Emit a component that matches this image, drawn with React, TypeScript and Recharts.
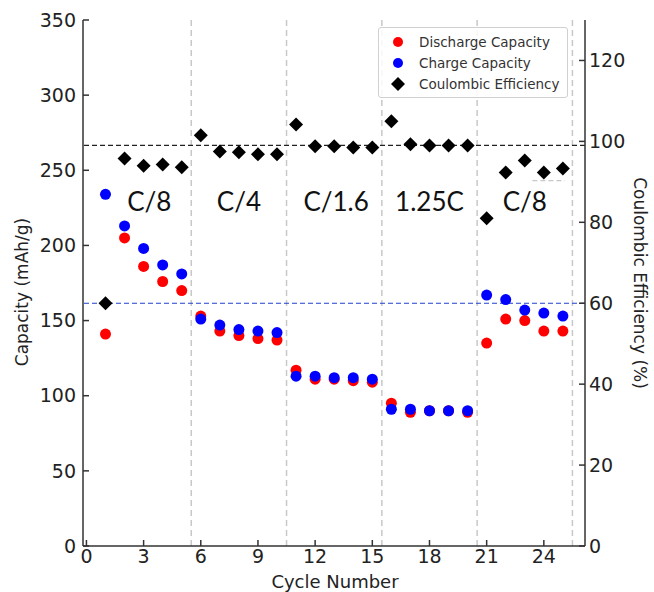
import {
  ComposedChart, Scatter, XAxis, YAxis, ReferenceLine, ReferenceDot,
} from 'recharts';

const cycles = [1, 2, 3, 4, 5, 6, 7, 8, 9, 10, 11, 12, 13, 14, 15, 16, 17, 18, 19, 20, 21, 22, 23, 24, 25];
const discharge = [141, 205, 186, 176, 170, 153, 143, 140, 138, 137, 117, 111, 111, 110, 109, 95, 89, 90, 90, 89, 135, 151, 150, 143, 143];
const charge = [234, 213, 198, 187, 181, 151, 147, 144, 143, 142, 113, 113, 112, 112, 111, 91, 91, 90, 90, 90, 167, 164, 157, 155, 153];
const efficiency = [60, 95.8, 94, 94.3, 93.6, 101.5, 97.5, 97.3, 96.8, 96.8, 104.2, 98.8, 98.8, 98.5, 98.5, 105, 99.3, 99, 99, 99, 81, 92.3, 95.3, 92.3, 93.3];

const xTicks = [0, 3, 6, 9, 12, 15, 18, 21, 24];
const leftTicks = [0, 50, 100, 150, 200, 250, 300, 350];
const rightTicks = [0, 20, 40, 60, 80, 100, 120];
const stageBounds = [5.5, 10.5, 15.5, 20.5, 25.5];
const rateLabels = ['C/8', 'C/4', 'C/1.6', '1.25C', 'C/8'];
const rateX = [3.3, 8.0, 13.1, 18.0, 23.0];
const rateY = 229;

const rows = cycles.map((c, i) => ({ cycle: c, dis: discharge[i], chg: charge[i], ce: efficiency[i] }));

const X_DOMAIN = [-0.18, 26.16];
const AX = '#333';
const TICK = { fill: '#222', fontSize: 19, fontFamily: 'DejaVu Sans' };

const dot = (color: string) => (p: any) => <circle cx={p.cx} cy={p.cy} r={5.5} fill={color} />;
const diamond = (p: any) => {
  const s = 7;
  return <polygon points={`${p.cx},${p.cy - s} ${p.cx + s},${p.cy} ${p.cx},${p.cy + s} ${p.cx - s},${p.cy}`} fill="#000" />;
};

const legendItems = [
  { name: 'Discharge Capacity', color: '#ff0000', shape: 'circle' },
  { name: 'Charge Capacity', color: '#0000ff', shape: 'circle' },
  { name: 'Coulombic Efficiency', color: '#000', shape: 'diamond' },
];

function LegendBox() {
  return (
    <div style={{
      position: 'absolute', left: 378, top: 27,
      background: 'rgba(255,255,255,0.85)', border: '1px solid #d0d0d0', borderRadius: 3,
      padding: '3px 8px 3px 10px', fontFamily: 'DejaVu Sans', fontSize: 13.5, color: '#333',
    }}>
      {legendItems.map((it) => (
        <div key={it.name} style={{ display: 'flex', alignItems: 'center', height: 21 }}>
          <svg width={20} height={14} style={{ marginRight: 10 }}>
            {it.shape === 'circle'
              ? <circle cx={9} cy={7} r={5} fill={it.color} />
              : <polygon points="9,0 16,7 9,14 2,7" fill={it.color} />}
          </svg>
          <span>{it.name}</span>
        </div>
      ))}
    </div>
  );
}

export default function App() {
  return (
    <div style={{ position: 'absolute', left: 0, top: 0, width: 654, height: 592, background: '#fff' }}>
      <ComposedChart width={654} height={592} data={rows} margin={{ top: 20, right: 0, bottom: 0, left: 0 }}>
        <XAxis
          xAxisId="bottom" dataKey="cycle" type="number" domain={X_DOMAIN} allowDataOverflow
          ticks={xTicks} height={46} stroke={AX} strokeWidth={1.5} tickSize={-6} tickMargin={10}
          tick={TICK}
          label={{
            content: () => (
              <text x={335} y={588} textAnchor="middle" fontSize={18} fontFamily="DejaVu Sans" fill="#222">Cycle Number</text>
            ),
          }}
        />
        <XAxis
          xAxisId="top" orientation="top" dataKey="cycle" type="number" domain={X_DOMAIN} allowDataOverflow
          ticks={xTicks} height={0} stroke={AX} strokeWidth={1.5} tickSize={-6} tick={() => <g />}
        />
        <YAxis
          yAxisId="left" domain={[0, 350]} ticks={leftTicks} width={83} stroke={AX} strokeWidth={1.5}
          tickSize={-6} tickMargin={13} tick={TICK} allowDataOverflow
          label={{
            content: () => (
              <text x={28} y={292} transform="rotate(-90 28 292)" textAnchor="middle" fontSize={17} fontFamily="DejaVu Sans" fill="#222">Capacity (mAh/g)</text>
            ),
          }}
        />
        <YAxis
          yAxisId="right" orientation="right" domain={[0, 130]} ticks={rightTicks} width={69} stroke={AX} strokeWidth={1.5}
          tickSize={-6} tickMargin={10} tick={TICK} allowDataOverflow
          label={{
            content: () => (
              <text x={634} y={283} transform="rotate(90 634 283)" textAnchor="middle" fontSize={17} fontFamily="DejaVu Sans" fill="#222">Coulombic Efficiency (%)</text>
            ),
          }}
        />
        {stageBounds.map((b) => (
          <ReferenceLine key={b} x={b} xAxisId="bottom" yAxisId="left" stroke="#c8c8c8" strokeWidth={1.5} strokeDasharray="6 4" />
        ))}
        <ReferenceLine y={99} xAxisId="bottom" yAxisId="right" stroke="#222" strokeWidth={1.2} strokeDasharray="5 3" />
        <ReferenceLine y={60} xAxisId="bottom" yAxisId="right" stroke="#2040d0" strokeWidth={1.2} strokeDasharray="5 3" />
        <ReferenceLine
          xAxisId="bottom" yAxisId="right" stroke="#c8c8c8" strokeWidth={1.2} strokeDasharray="5 3"
          segment={[{ x: 23.4, y: 90.3 }, { x: 25.1, y: 90.3 }]}
        />
        {rateLabels.map((t, i) => (
          <ReferenceDot
            key={i} x={rateX[i]} y={rateY} xAxisId="bottom" yAxisId="left" r={1} fill="none" stroke="none"
            label={{ value: t, position: 'center', fontSize: 26, fontFamily: 'Lato', fill: '#111' }}
          />
        ))}
        <Scatter name="Discharge Capacity" dataKey="dis" xAxisId="bottom" yAxisId="left" shape={dot('#ff0000')} isAnimationActive={false} />
        <Scatter name="Charge Capacity" dataKey="chg" xAxisId="bottom" yAxisId="left" shape={dot('#0000ff')} isAnimationActive={false} />
        <Scatter name="Coulombic Efficiency" dataKey="ce" xAxisId="bottom" yAxisId="right" shape={diamond} isAnimationActive={false} />
      </ComposedChart>
      <LegendBox />
    </div>
  );
}
